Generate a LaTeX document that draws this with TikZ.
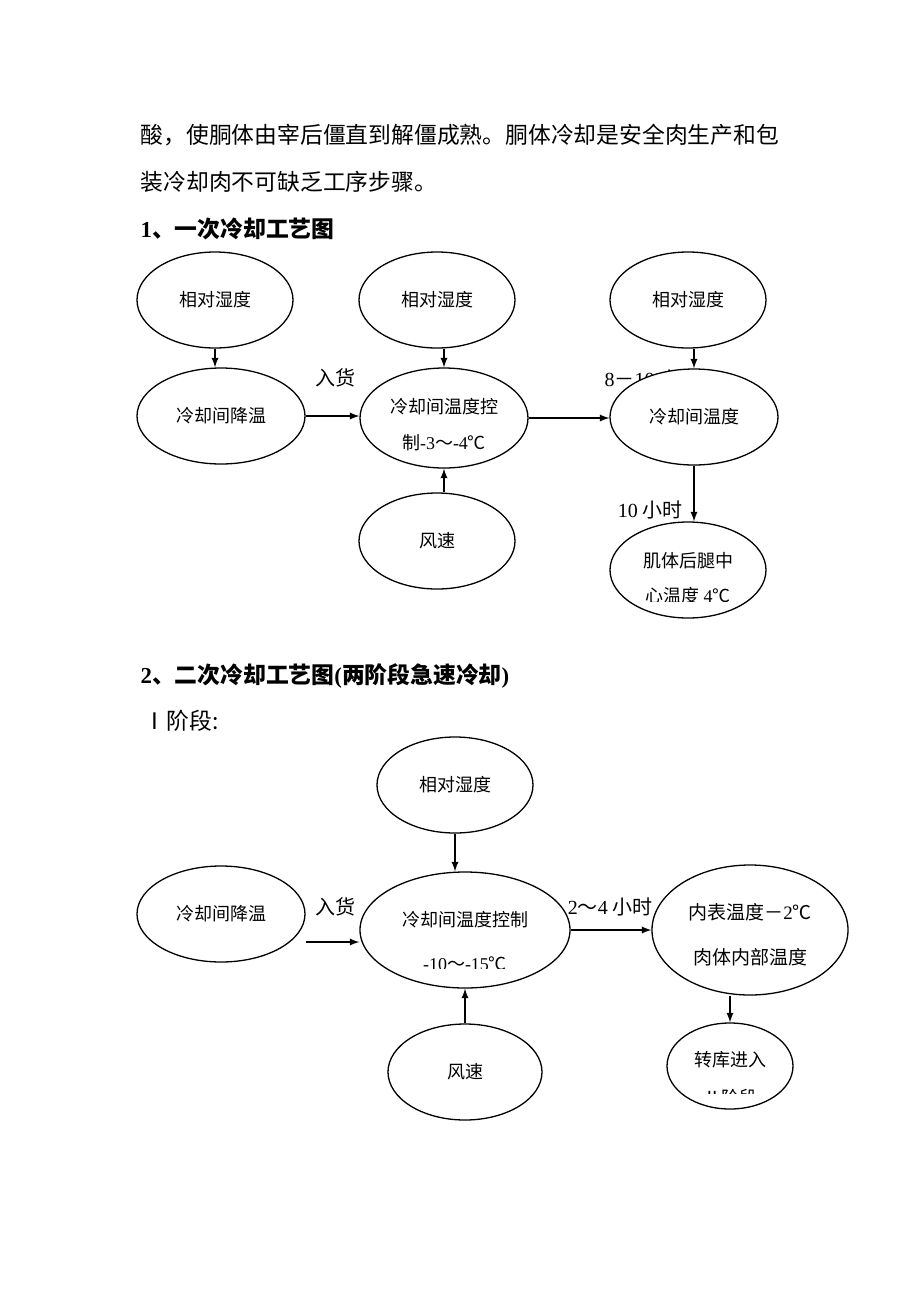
\documentclass[tikz,border=0pt]{standalone}
\usepackage{fontspec}
\setmainfont{Liberation Serif}
\newfontfamily\cjk{Noto Sans CJK SC}
\usetikzlibrary{shapes.geometric}
\newcommand{\latn}[1]{{\rmfamily #1}}

\begin{document}
\begin{tikzpicture}[x=0.5pt,y=-0.5pt,>=latex,line width=0.65pt,
  ell/.style 2 args={draw,ellipse,fill=white,inner sep=0pt,minimum width=#1,minimum height=#2,
    font=\cjk\fontsize{9}{18}\selectfont,align=center},
  txt/.style={inner sep=0pt,font=\cjk\fontsize{9}{18}\selectfont},
  body/.style={anchor=west,inner sep=0pt,font=\cjk\fontsize{11.4}{14}\selectfont},
  lbl/.style={inner sep=0pt,font=\cjk\fontsize{10}{12}\selectfont}]
    \fill[white] (0,0) rectangle (920,1302);
    \useasboundingbox (0,0) rectangle (920,1302);

    % text above the charts
    \node[body] (p1) at (140,135) {酸，使胴体由宰后僵直到解僵成熟。胴体冷却是安全肉生产和包};
    \node[body] (p2) at (140,182) {装冷却肉不可缺乏工序步骤。};
    \node[body,font=\cjk\bfseries\fontsize{11.4}{14}\selectfont] (h1) at (140,229) {\latn{1}、一次冷却工艺图};

    % first chart
    \node[lbl,anchor=west] (t810) at (604,379) {\latn{8}－\latn{10} 小时};
    \node[ell={78pt}{48pt}] (E1) at (215,300) {相对湿度};
    \node[ell={78pt}{48pt}] (E2) at (437,300) {相对湿度};
    \node[ell={78pt}{48pt}] (E3) at (688,300) {相对湿度};
    \node[ell={84pt}{48pt}] (E4) at (221,416) {冷却间降温};
    \node[ell={84pt}{50pt}] (E5) at (444,418) {};
    \node[txt] (E5a) at (444,407) {冷却间温度控};
    \node[txt] (E5b) at (444,443) {制\latn{-3}～\latn{-4}℃};
    \node[ell={84pt}{48pt}] (E6) at (694,417) {冷却间温度};
    \node[ell={78pt}{48pt}] (E7) at (437,541) {风速};
    \node[ell={78pt}{48pt}] (E8) at (688,570) {};
    \node[txt] (E8a) at (688,561) {肌体后腿中};
    \begin{scope}
        \clip (620,580) rectangle (760,601);
        \node[txt] (E8b) at (688,596) {心温度 \latn{4}℃};
    \end{scope}
    \node[lbl] (in1) at (335,378) {入货};
    \node[lbl] (t10) at (650,510) {\latn{10} 小时};
    \draw[->] (E1.south) -- (E1.south |- E4.north);
    \draw[->] (E5.north |- E2.south) -- (E5.north);
    \draw[->] (E6.north |- E3.south) -- (E6.north);
    \draw[->] (E4.east) -- (E4.east -| E5.west);
    \draw[->] (E5.east) -- (E5.east -| E6.west);
    \draw[->] (E5.south |- E7.north) -- (E5.south);
    \draw[->] (E6.south) -- (E6.south |- E8.north);

    % second chart
    \node[body,font=\cjk\bfseries\fontsize{11.4}{14}\selectfont] (h2) at (140,676) {\latn{2}、二次冷却工艺图\latn{(}两阶段急速冷却\latn{)}};
    \node[body] (st1) at (143,721) {Ⅰ阶段:};
    \node[ell={78pt}{48pt}] (F1) at (455,785) {相对湿度};
    \node[ell={84pt}{48pt}] (F2) at (221,914) {冷却间降温};
    \node[ell={105pt}{58pt}] (F3) at (465,930) {};
    \node[txt] (F3a) at (465,920) {冷却间温度控制};
    \begin{scope}
        \clip (380,950) rectangle (550,968);
        \node[txt] (F3b) at (465,964) {\latn{-10}～\latn{-15}℃};
    \end{scope}
    \node[ell={98pt}{65pt}] (F4) at (750,930) {};
    \node[txt,font=\cjk\fontsize{9.5}{18}\selectfont] (F4a) at (750,912) {内表温度－\latn{2}℃};
    \node[txt,font=\cjk\fontsize{9.5}{18}\selectfont] (F4b) at (750,957) {肉体内部温度};
    \node[ell={63pt}{43pt}] (F5) at (730,1066) {};
    \node[txt] (F5a) at (730,1060) {转库进入};
    \begin{scope}
        \clip (680,1080) rectangle (780,1093);
        \node[txt] (F5b) at (730,1098) {Ⅱ阶段};
    \end{scope}
    \node[ell={77pt}{48pt}] (F6) at (465,1072) {风速};
    \node[lbl] (in2) at (335,907) {入货};
    \node[lbl] (t24) at (610,907) {\latn{2}～\latn{4} 小时};
    \draw[->] (F1.south) -- (F1.south |- F3.north);
    \draw[->] ([yshift=-14pt]F2.east) -- ([yshift=-14pt]F2.east -| F3.west);
    \draw[->] (F3.east) -- (F3.east -| F4.west);
    \draw[->] (F5.north |- F4.south) -- (F5.north);
    \draw[->] (F6.north) -- (F6.north |- F3.south);
\end{tikzpicture}
\end{document}
